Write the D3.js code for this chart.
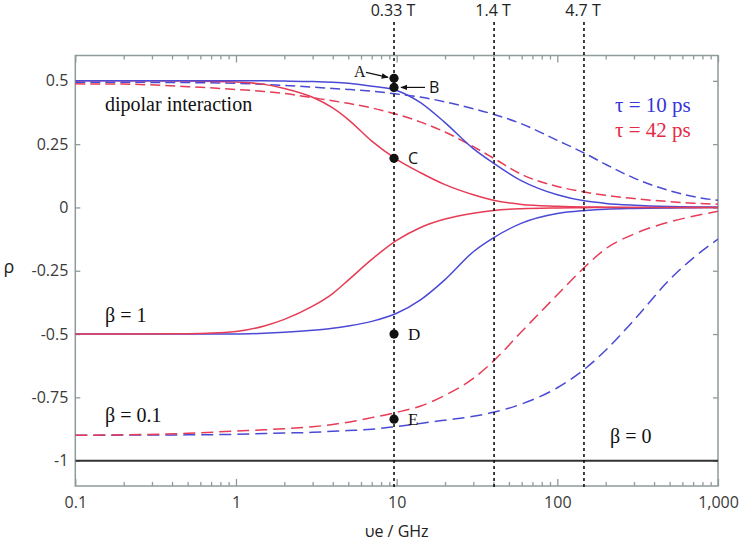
<!DOCTYPE html>
<html><head><meta charset="utf-8">
<script src="https://cdn.jsdelivr.net/npm/d3@7"></script>
<style>body{margin:0;background:#fff}svg{display:block}</style>
</head><body><svg id="c" width="742" height="541"></svg>
<script>
// ---- data ----
const freqGHz = [0.1, 0.2, 0.5, 1, 1.5, 2, 3, 4, 5, 7, 10, 14, 20, 30, 40, 60, 100, 150, 200, 300, 500, 700, 1000];
// dipolar interaction
const dipBlueSolid = [0.5, 0.5, 0.5, 0.5, 0.5, 0.499, 0.497, 0.494, 0.49, 0.479, 0.462, 0.415, 0.335, 0.232, 0.175, 0.105, 0.05, 0.025, 0.016, 0.009, 0.004, 0.002, 0.001];
const dipBlueDashed = [0.494, 0.494, 0.493, 0.49, 0.486, 0.482, 0.475, 0.47, 0.466, 0.459, 0.448, 0.436, 0.417, 0.39, 0.368, 0.33, 0.265, 0.212, 0.17, 0.116, 0.066, 0.043, 0.028];
const dipRedSolid = [0.5, 0.5, 0.499, 0.495, 0.486, 0.47, 0.435, 0.393, 0.347, 0.262, 0.19, 0.138, 0.09, 0.05, 0.028, 0.012, 0.005, 0.002, 0.001, 0, 0, 0, 0];
const dipRedDashed = [0.488, 0.487, 0.477, 0.466, 0.458, 0.45, 0.433, 0.421, 0.411, 0.393, 0.368, 0.338, 0.298, 0.24, 0.195, 0.13, 0.083, 0.06, 0.048, 0.035, 0.023, 0.017, 0.013];
// beta = 1
const beta1Red = [-0.5, -0.5, -0.499, -0.49, -0.468, -0.442, -0.39, -0.34, -0.287, -0.205, -0.13, -0.08, -0.046, -0.023, -0.012, -0.005, -0.002, -0.001, 0, 0, 0, 0, 0];
const beta1Blue = [-0.5, -0.5, -0.5, -0.5, -0.497, -0.493, -0.485, -0.477, -0.468, -0.45, -0.418, -0.366, -0.285, -0.175, -0.12, -0.062, -0.024, -0.012, -0.007, -0.004, -0.002, -0.001, 0];
// beta = 0.1
const beta01Red = [-0.9, -0.898, -0.892, -0.883, -0.878, -0.874, -0.866, -0.857, -0.848, -0.83, -0.809, -0.785, -0.742, -0.675, -0.607, -0.49, -0.345, -0.232, -0.163, -0.105, -0.057, -0.035, -0.015];
const beta01Blue = [-0.9, -0.899, -0.898, -0.896, -0.893, -0.891, -0.888, -0.884, -0.881, -0.876, -0.865, -0.853, -0.84, -0.825, -0.809, -0.776, -0.712, -0.635, -0.564, -0.445, -0.285, -0.2, -0.125];
// beta = 0
const beta0Value = -1;

const yTickValues = [0.5, 0.25, 0, -0.25, -0.5, -0.75, -1];
const yTickLabels = ["0.5", "0.25", "0", "-0.25", "-0.5", "-0.75", "-1"];
const xMajorTicks = [0.1, 1, 10, 100, 1000];
const xTickLabels = ["0.1", "1", "10", "100", "1,000"];
const fieldGHz = [9.63, 40.4, 146.5];
const fieldLabels = ["0.33 T", "1.4 T", "4.7 T"];
const pointNames = ["A", "B", "C", "D", "E"];
const pointValues = [0.51, 0.474, 0.194, -0.5, -0.836];
const pointGHz = 9.63;

// ---- chart ----
const BLUE = "#4a4ad6", RED = "#e63c55", AXIS = "#8d9b9b";
const svg = d3.select("#c");
const L = 75.3, R = 718, T = 55.5, B = 486;
const x = d3.scaleLog().domain([0.1, 1000]).range([L, R]);
const y = d3.scaleLinear().domain([-1.1, 0.6]).range([B, T]);

svg.append("defs").append("clipPath").attr("id", "clip")
  .append("rect").attr("x", L).attr("y", T).attr("width", R - L).attr("height", B - T);
const mk = svg.select("defs").append("marker").attr("id", "arr")
  .attr("viewBox", "0 0 10 10").attr("refX", 9).attr("refY", 5)
  .attr("markerWidth", 7).attr("markerHeight", 7).attr("orient", "auto-start-reverse")
  .attr("markerUnits", "userSpaceOnUse");
mk.append("path").attr("d", "M0,1 L10,5 L0,9 z").attr("fill", "#111");

const minorTicks = x.ticks().filter(v => !xMajorTicks.some(m => Math.abs(m - v) < 1e-9));

function styleAxis(g) {
  g.select(".domain").remove();
  g.selectAll(".tick line").attr("stroke", AXIS).attr("stroke-width", 1.3);
  g.selectAll("text").attr("fill", "#3a3a3a").attr("font-family", "Open Sans, sans-serif").attr("font-size", 16);
}
// bottom
svg.append("g").attr("transform", `translate(0,${B})`)
  .call(d3.axisBottom(x).tickValues(minorTicks).tickSize(-4).tickFormat("")).call(styleAxis);
svg.append("g").attr("transform", `translate(0,${B})`)
  .call(d3.axisBottom(x).tickValues(xMajorTicks).tickSize(-7).tickPadding(11).tickFormat((d, i) => xTickLabels[i])).call(styleAxis);
// top
svg.append("g").attr("transform", `translate(0,${T})`)
  .call(d3.axisTop(x).tickValues(minorTicks).tickSize(-4).tickFormat("")).call(styleAxis);
svg.append("g").attr("transform", `translate(0,${T})`)
  .call(d3.axisTop(x).tickValues(xMajorTicks).tickSize(-7).tickFormat("")).call(styleAxis);
// left / right
svg.append("g").attr("transform", `translate(${L},0)`)
  .call(d3.axisLeft(y).tickValues(yTickValues).tickSize(-5).tickPadding(7).tickFormat((d, i) => yTickLabels[i])).call(styleAxis);
svg.append("g").attr("transform", `translate(${R},0)`)
  .call(d3.axisRight(y).tickValues(yTickValues).tickSize(-5).tickFormat("")).call(styleAxis);

svg.append("rect").attr("x", L).attr("y", T).attr("width", R - L).attr("height", B - T)
  .attr("fill", "none").attr("stroke", AXIS).attr("stroke-width", 1.5);

// curves
const series = [
  { v: dipRedDashed, c: RED, dash: "10,5" },
  { v: dipBlueDashed, c: BLUE, dash: "10,5" },
  { v: dipRedSolid, c: RED, dash: null },
  { v: dipBlueSolid, c: BLUE, dash: null },
  { v: beta1Blue, c: BLUE, dash: null },
  { v: beta1Red, c: RED, dash: null },
  { v: beta01Blue, c: BLUE, dash: "12,6" },
  { v: beta01Red, c: RED, dash: "12,6" }
];
const line = d3.line().x(d => x(d[0])).y(d => y(d[1])).curve(d3.curveMonotoneX);
const plot = svg.append("g").attr("clip-path", "url(#clip)");
series.forEach(s => {
  plot.append("path").attr("d", line(freqGHz.map((f, i) => [f, s.v[i]])))
    .attr("fill", "none").attr("stroke", s.c).attr("stroke-width", 1.5)
    .attr("stroke-dasharray", s.dash);
});
// beta = 0
plot.append("line").attr("x1", L).attr("x2", R).attr("y1", y(beta0Value)).attr("y2", y(beta0Value))
  .attr("stroke", "#333").attr("stroke-width", 2);

// field lines
fieldGHz.forEach((f, i) => {
  svg.append("line").attr("x1", x(f)).attr("x2", x(f)).attr("y1", 22).attr("y2", B + 2)
    .attr("stroke", "#111").attr("stroke-width", 1.6).attr("stroke-dasharray", "3,3");
  svg.append("text").attr("x", x(f) - 1).attr("y", 16).attr("text-anchor", "middle")
    .attr("font-family", "Open Sans, sans-serif").attr("font-size", 16).attr("fill", "#222")
    .text(fieldLabels[i]);
});

// points
const px = x(pointGHz);
pointValues.forEach((v, i) => {
  svg.append("circle").attr("cx", px).attr("cy", y(v)).attr("r", 4.6).attr("fill", "#111");
});
const serif = "Liberation Serif, Times New Roman, serif";
// A label with arrow
svg.append("text").attr("x", px - 40).attr("y", y(pointValues[0]) - 1).attr("font-family", serif)
  .attr("font-size", 16).attr("fill", "#111").text(pointNames[0]);
svg.append("line").attr("x1", px - 28).attr("y1", y(pointValues[0]) - 6).attr("x2", px - 6).attr("y2", y(pointValues[0]) - 1)
  .attr("stroke", "#111").attr("stroke-width", 1.2).attr("marker-end", "url(#arr)");
// B label with arrow
svg.append("line").attr("x1", px + 31).attr("y1", y(pointValues[1])).attr("x2", px + 7).attr("y2", y(pointValues[1]))
  .attr("stroke", "#111").attr("stroke-width", 1.2).attr("marker-end", "url(#arr)");
svg.append("text").attr("x", px + 35).attr("y", y(pointValues[1]) + 6).attr("font-family", "Open Sans, sans-serif")
  .attr("font-size", 16).attr("fill", "#111").text(pointNames[1]);
// C, D, E
[2, 3, 4].forEach(i => {
  svg.append("text").attr("x", px + 14).attr("y", y(pointValues[i]) + 6)
    .attr("font-family", i === 2 ? "Open Sans, sans-serif" : serif)
    .attr("font-size", i === 2 ? 16 : 17).attr("fill", "#111").text(pointNames[i]);
});

// annotations
function ann(txt, xx, yy, size, color) {
  svg.append("text").attr("x", xx).attr("y", yy).attr("font-family", serif)
    .attr("font-size", size).attr("fill", color).text(txt);
}
ann("dipolar interaction", 105, 111, 20, "#111");
ann("β = 1", 105, 322, 20, "#111");
ann("β = 0.1", 105, 422, 20, "#111");
ann("β = 0", 610, 443, 20, "#111");
ann("τ = 10 ps", 615, 112, 21, "#3535d8");
ann("τ = 42 ps", 615, 137, 21, "#e62a45");

// axis titles
svg.append("text").attr("x", (L + R) / 2).attr("y", 537).attr("text-anchor", "middle")
  .attr("font-family", "Open Sans, sans-serif").attr("font-size", 16).attr("fill", "#222").text("υe / GHz");
svg.append("text").attr("x", 9).attr("y", 273).attr("text-anchor", "middle")
  .attr("font-family", "Open Sans, sans-serif").attr("font-size", 18).attr("fill", "#222").text("ρ");
</script></body></html>
